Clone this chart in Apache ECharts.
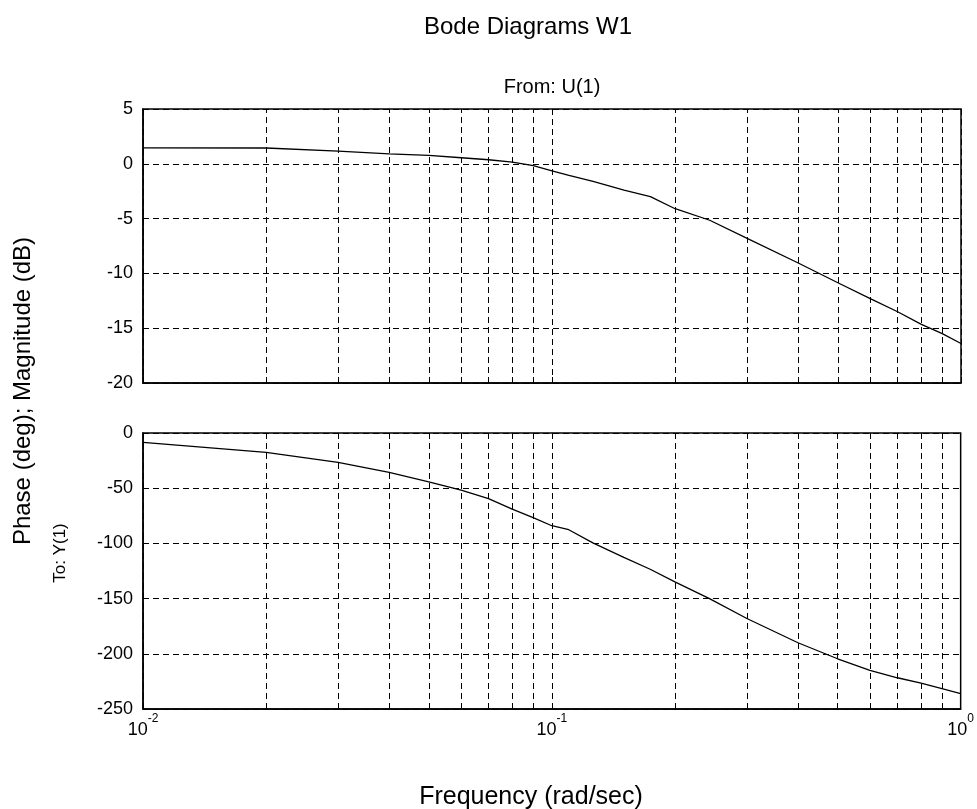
<!DOCTYPE html>
<html>
<head>
<meta charset="utf-8">
<script src="https://cdn.jsdelivr.net/npm/echarts@6/dist/echarts.min.js"></script>
<style>
html,body{margin:0;padding:0;background:#fff;}
#chart{width:977px;height:809px;}
</style>
</head>
<body>
<div id="chart"></div>
<script>
const freq = [0.01,0.02,0.03,0.04,0.05,0.06,0.07,0.08,0.09,0.1,0.11,0.126,0.15,0.174,0.2,0.243,0.3,0.4,0.5,0.6,0.7,0.8,0.9,1];
const magDb = [1.46,1.44,1.15,0.91,0.76,0.55,0.37,0.15,-0.16,-0.65,-1.05,-1.6,-2.4,-3.0,-4.1,-5.15,-6.8,-9.05,-10.85,-12.3,-13.5,-14.65,-15.5,-16.4];
const phaseDeg = [-8.5,-17.5,-26.6,-35.7,-44.2,-51.8,-59.4,-69,-76.6,-84,-87.6,-99.5,-112.6,-123.4,-134.8,-150,-168,-190,-204.5,-215,-221.7,-226.5,-231.6,-236];
const minorFreqs = [0.02,0.03,0.04,0.05,0.06,0.07,0.08,0.09,0.2,0.3,0.4,0.5,0.6,0.7,0.8,0.9];
const titleText = 'Bode Diagrams W1';
const subTitleText = 'From: U(1)';
const yLabelText = 'Phase (deg); Magnitude (dB)';
const toLabelText = 'To: Y(1)';
const xLabelText = 'Frequency (rad/sec)';

const FONT = '"Liberation Sans", Arial, sans-serif';
const dash = [6, 4];

function pairs(ys) { return freq.map((f, i) => [f, ys[i]]); }

const minorLines = {
  silent: true,
  symbol: 'none',
  label: { show: false },
  lineStyle: { color: '#000', type: dash, width: 1 },
  data: minorFreqs.map(v => ({ xAxis: v }))
};

const chart = echarts.init(document.getElementById('chart'), null, { renderer: 'canvas' });
const xBase = {
  type: 'log', logBase: 10, min: 0.01, max: 1,
  axisLine: { onZero: false, lineStyle: { color: '#000', width: 1.5 } },
  axisTick: { show: true, inside: true, length: 6, lineStyle: { color: '#000' } },
  splitLine: { show: true, lineStyle: { color: '#000', type: dash, width: 1 } }
};
const yBase = {
  type: 'value',
  axisLine: { show: true, onZero: false, lineStyle: { color: '#000', width: 1.5 } },
  axisTick: { show: true, inside: true, length: 6, lineStyle: { color: '#000' } },
  axisLabel: { color: '#000', fontSize: 18, fontFamily: FONT, margin: 10 },
  splitLine: { show: true, lineStyle: { color: '#000', type: dash, width: 1 } }
};
chart.setOption({
  animation: false,
  backgroundColor: '#fff',
  title: [
    { text: titleText, left: 523, top: 10, textAlign: 'center',
      textStyle: { fontSize: 24, fontWeight: 'normal', color: '#000', fontFamily: FONT } },
    { text: subTitleText, left: 547, top: 72, textAlign: 'center',
      textStyle: { fontSize: 20, fontWeight: 'normal', color: '#000', fontFamily: FONT } },
    { text: xLabelText, left: 526, top: 780, textAlign: 'center',
      textStyle: { fontSize: 25, fontWeight: 'normal', color: '#000', fontFamily: FONT } }
  ],
  graphic: [
    { type: 'text', x: 23, y: 391, rotation: Math.PI / 2,
      style: { text: yLabelText, fontSize: 24, fontFamily: FONT, fill: '#000', align: 'center', verticalAlign: 'middle' } },
    { type: 'text', x: 60, y: 553, rotation: Math.PI / 2,
      style: { text: toLabelText, fontSize: 17, fontFamily: FONT, fill: '#000', align: 'center', verticalAlign: 'middle' } }
  ],
  grid: [
    { left: 143, top: 109, width: 818, height: 274, show: true, borderColor: '#000', borderWidth: 1.5, backgroundColor: '#fff' },
    { left: 143, top: 433, width: 818, height: 276, show: true, borderColor: '#000', borderWidth: 1.5, backgroundColor: '#fff' }
  ],
  xAxis: [
    Object.assign({}, xBase, { gridIndex: 0, axisLabel: { show: false } }),
    Object.assign({}, xBase, { gridIndex: 1,
      axisLabel: {
        color: '#000', fontFamily: FONT, margin: 4,
        formatter: function (v) {
          const e = Math.round(Math.log10(v));
          return '{b|10}{s|' + e + '}';
        },
        rich: {
          b: { fontSize: 18, fontFamily: FONT, color: '#000', lineHeight: 26, verticalAlign: 'bottom' },
          s: { fontSize: 12, fontFamily: FONT, color: '#000', verticalAlign: 'top' }
        }
      } })
  ],
  yAxis: [
    Object.assign({}, yBase, { gridIndex: 0, min: -20, max: 5, interval: 5 }),
    Object.assign({}, yBase, { gridIndex: 1, min: -250, max: 0, interval: 50 })
  ],
  series: [
    { type: 'line', xAxisIndex: 0, yAxisIndex: 0, data: pairs(magDb), showSymbol: false, symbol: 'none',
      lineStyle: { color: '#000', width: 1.3 }, markLine: minorLines, z: 5 },
    { type: 'line', xAxisIndex: 1, yAxisIndex: 1, data: pairs(phaseDeg), showSymbol: false, symbol: 'none',
      lineStyle: { color: '#000', width: 1.3 }, markLine: minorLines, z: 5 }
  ]
});
</script>
</body>
</html>
